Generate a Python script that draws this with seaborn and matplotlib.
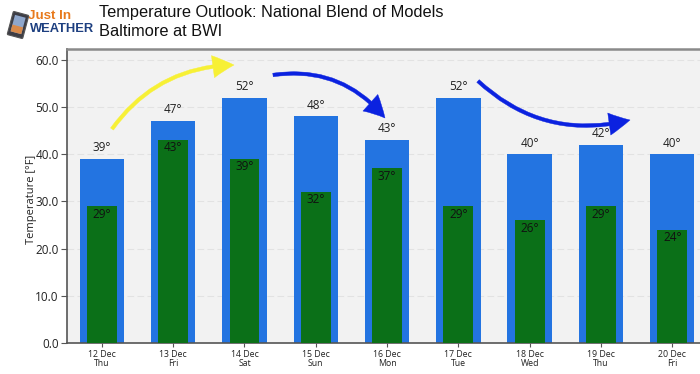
import matplotlib
matplotlib.use("Agg")
import matplotlib.pyplot as plt
from matplotlib.patches import FancyArrowPatch, FancyBboxPatch, Rectangle
from matplotlib.transforms import Affine2D
import pandas as pd
import seaborn as sns

dates = ["12 Dec\nThu", "13 Dec\nFri", "14 Dec\nSat", "15 Dec\nSun", "16 Dec\nMon",
         "17 Dec\nTue", "18 Dec\nWed", "19 Dec\nThu", "20 Dec\nFri"]
highs = [39, 47, 52, 48, 43, 52, 40, 42, 40]
lows = [29, 43, 39, 32, 37, 29, 26, 29, 24]
df = pd.DataFrame({"date": dates, "high": highs, "low": lows})

W, H = 700, 374
sns.set_theme(style="white")
plt.rcParams["font.family"] = ["Open Sans", "DejaVu Sans"]
fig = plt.figure(figsize=(W / 100, H / 100), dpi=100, facecolor="white")
ax = fig.add_axes([67 / W, 1 - 343 / H, (700 - 67) / W, (343 - 49) / H], facecolor="#f2f2f2")

sns.barplot(data=df, x="date", y="high", color="#2374e1", saturation=1, width=0.625, ax=ax, zorder=2,
            linewidth=0, edgecolor="none")
sns.barplot(data=df, x="date", y="low", color="#0b7018", saturation=1, width=0.42, ax=ax, zorder=3,
            linewidth=0, edgecolor="none")

ax.set_xlim(-0.49, 8.39)
ax.set_ylim(0, 62.3)
ax.set_yticks(range(0, 61, 10))
ax.set_yticklabels([f"{v:.1f}" for v in range(0, 61, 10)], fontsize=8.5, color="#222222")
ax.tick_params(axis="y", length=4, width=0.8, color="#555555", pad=2, left=True)
ax.tick_params(axis="x", length=3, width=0.8, color="#555555", pad=2, labelsize=6.3,
               labelcolor="#222222", bottom=True)
for lab in ax.get_xticklabels():
    lab.set_linespacing(1.05)
ax.set_xlabel("")
ax.set_ylabel("Temperature [°F]", fontsize=8, color="#222222", labelpad=0)
ax.yaxis.set_label_coords(-0.047, 0.49)
ax.grid(axis="y", color="#e2e2e2", linestyle=(0, (6, 3)), linewidth=0.8, zorder=0)
ax.set_axisbelow(True)
for side, spine in ax.spines.items():
    spine.set_visible(side != "right")
    spine.set_color("#8a8a8a" if side == "top" else "#555555")
    spine.set_linewidth(1.8 if side == "top" else 1.2)

for i, (hi, lo) in enumerate(zip(highs, lows)):
    ax.text(i, hi + 1.0, f"{hi}°", ha="center", va="bottom", fontsize=8.5, color="#222222", zorder=5)
    ax.text(i, lo - 0.3, f"{lo}°", ha="center", va="top", fontsize=8.5, color="#111111", zorder=5)

fig.text(99 / W, 1 - 12 / H, "Temperature Outlook: National Blend of Models", fontsize=11.8,
         family="Liberation Sans", color="#111111", va="center")
fig.text(99 / W, 1 - 31 / H, "Baltimore at BWI", fontsize=11.8,
         family="Liberation Sans", color="#111111", va="center")

# logo
fig.text(28 / W, 1 - 16 / H, "Just In", fontsize=9.6, fontweight="bold", family="Liberation Sans",
         color="#e87a1d", va="center")
fig.text(30 / W, 1 - 28.5 / H, "WEATHER", fontsize=9.3, fontweight="bold", family="Liberation Sans",
         color="#1d3f80", va="center")
px = Affine2D().scale(1, -1).translate(0, H)
tilt = Affine2D().rotate_deg_around(18, 25, 15) + px
fig.add_artist(FancyBboxPatch((11, 14), 14, 22, transform=tilt, boxstyle="round,pad=1",
                              facecolor="#3d3d45", edgecolor="#555555", linewidth=0.8, zorder=6))
fig.add_artist(Rectangle((12.5, 16), 11, 17, transform=tilt, facecolor="#8fa7cc", edgecolor="none", zorder=7))
fig.add_artist(Rectangle((12.5, 26), 11, 7, transform=tilt, facecolor="#d98a4a", edgecolor="none", zorder=8))

def arrow(x0, y0, x1, y1, rad, color, lw, ms):
    fig.add_artist(FancyArrowPatch((x0 / W, 1 - y0 / H), (x1 / W, 1 - y1 / H),
                                   transform=fig.transFigure, connectionstyle=f"arc3,rad={rad}",
                                   arrowstyle=f"simple,head_width={ms},head_length={ms*0.95},tail_width={lw}",
                                   facecolor=color, edgecolor=color, linewidth=0.3, zorder=10,
                                   shrinkA=0, shrinkB=0))

arrow(112, 129, 234, 65, -0.25, "#f7f035", 2.6, 16)
arrow(273, 75, 385, 118, -0.28, "#0b22e0", 2.6, 16)
arrow(478, 81, 630, 120, 0.27, "#0b22e0", 2.6, 16)

fig.savefig("out.png", dpi=100)
